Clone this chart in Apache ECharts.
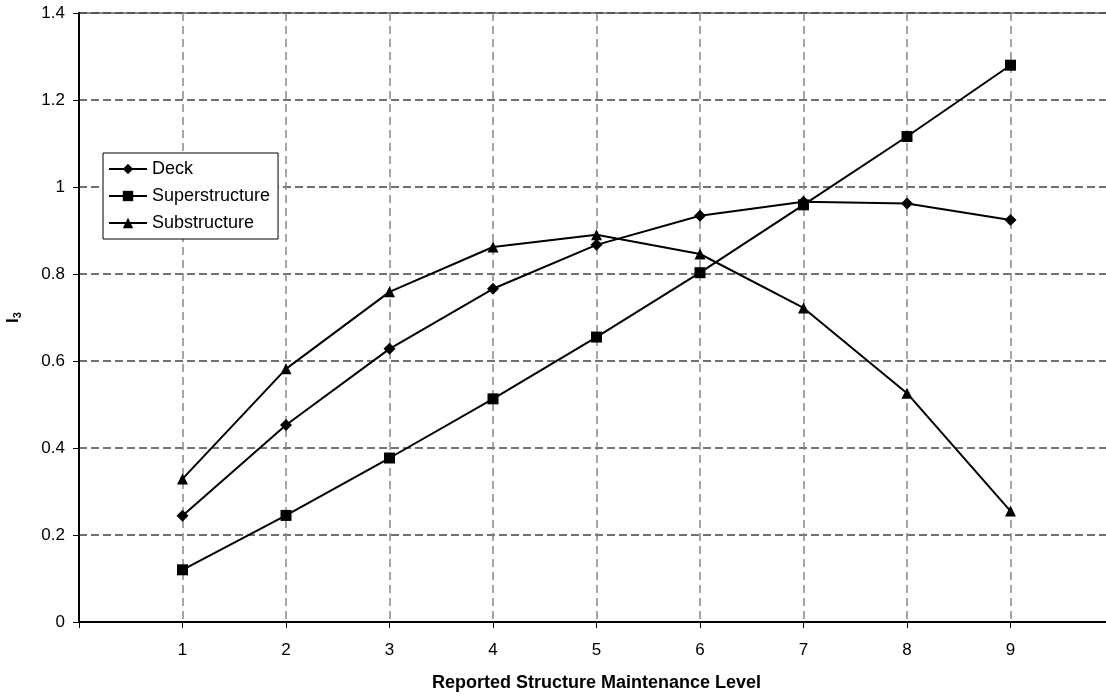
<!DOCTYPE html>
<html>
<head>
<meta charset="UTF-8">
<title>I3 by maintenance level</title>
<script src="https://cdn.jsdelivr.net/npm/echarts@6/dist/echarts.min.js"></script>
<style>
  html, body { margin: 0; padding: 0; background: #fff; }
</style>
</head>
<body>
	<div id="container" style="width:1106px;height:696px;"></div>
	<script type="text/javascript">
	// data
	var levels = [1, 2, 3, 4, 5, 6, 7, 8, 9];
	var deck = [0.244, 0.453, 0.628, 0.766, 0.867, 0.934, 0.966, 0.962, 0.924];
	var superstructure = [0.120, 0.245, 0.377, 0.513, 0.655, 0.803, 0.959, 1.116, 1.280];
	var substructure = [0.329, 0.582, 0.759, 0.862, 0.890, 0.846, 0.722, 0.526, 0.255];
	var seriesNames = ['Deck', 'Superstructure', 'Substructure'];

	function pairs(vals) {
		var out = [];
		for (var i = 0; i < levels.length; i++) {
			out.push([levels[i], vals[i]]);
		}
		return out;
	}

	var font = '"Liberation Sans", Arial, sans-serif';
	var dom = document.getElementById("container");
	var myChart = echarts.init(dom);

	function lineSeries(name, vals, symbol, size) {
		return {
			name: name,
			type: 'line',
			data: pairs(vals),
			symbol: symbol,
			symbolSize: size,
			lineStyle: { color: '#000', width: 2 },
			itemStyle: { color: '#000' },
			z: 3
		};
	}

	var option = {
		backgroundColor: '#fff',
		animation: false,
		textStyle: { fontFamily: font },
		grid: {
			left: 79,
			top: 13,
			width: 1035,
			height: 609,
			outerBoundsMode: 'none',
			containLabel: false,
			show: true,
			borderColor: '#888',
			borderWidth: 2
		},
		legend: {
			orient: 'vertical',
			left: 103,
			top: 153,
			data: seriesNames,
			backgroundColor: '#fff',
			borderColor: '#000',
			borderWidth: 1,
			padding: [7, 8, 7, 5],
			itemWidth: 38,
			itemHeight: 13,
			itemGap: 9,
			textStyle: { fontFamily: font, fontSize: 18, color: '#000' }
		},
		xAxis: {
			type: 'value',
			min: 0,
			max: 10,
			interval: 1,
			name: 'Reported Structure Maintenance Level',
			nameLocation: 'middle',
			nameGap: 52,
			nameTextStyle: { fontFamily: font, fontSize: 18, fontWeight: 'bold', color: '#000' },
			axisLine: { lineStyle: { color: '#000', width: 2 } },
			axisTick: { show: true, length: 6, lineStyle: { color: '#000' } },
			axisLabel: {
				margin: 20,
				fontFamily: font,
				fontSize: 17,
				color: '#000',
				formatter: function (v) { return (v >= 1 && v <= 9) ? String(v) : ''; }
			},
			splitLine: { show: true, lineStyle: { color: '#888', type: [8, 5], width: 1.5 } }
		},
		yAxis: {
			type: 'value',
			min: 0,
			max: 1.4,
			interval: 0.2,
			name: '{a|I}{b|3}',
			nameLocation: 'middle',
			nameGap: 56,
			nameTextStyle: {
				rich: {
					a: { fontFamily: font, fontSize: 17, fontWeight: 'bold', color: '#000' },
					b: { fontFamily: font, fontSize: 11, fontWeight: 'bold', color: '#000', verticalAlign: 'bottom', padding: [8, 0, 0, 0] }
				}
			},
			axisLine: { show: true, lineStyle: { color: '#000', width: 2 } },
			axisTick: { show: true, length: 6, lineStyle: { color: '#000' } },
			axisLabel: { margin: 14, fontFamily: font, fontSize: 17, color: '#000' },
			splitLine: { show: true, lineStyle: { color: '#444', type: [8, 4], width: 1.5 } }
		},
		series: [
			lineSeries('Deck', deck, 'diamond', 12),
			lineSeries('Superstructure', superstructure, 'rect', 11),
			lineSeries('Substructure', substructure, 'triangle', 11)
		]
	};

	if (option && typeof option === "object") {
		myChart.setOption(option, true);
	}
    </script>
</body>
</html>
